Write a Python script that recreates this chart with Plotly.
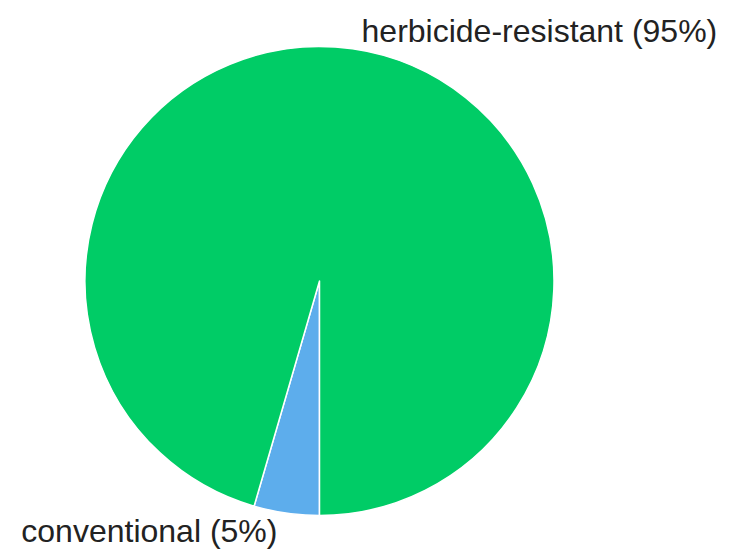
import plotly.graph_objects as go

labels = ["conventional (5%)", "herbicide-resistant (95%)"]
values = [4.5, 95.5]
colors = ["#5DADEC", "#00CC66"]

x0, x1 = 76.5, 546.5
y_top, y_bot = 38.5, 507.5

fig = go.Figure(go.Pie(
    labels=labels,
    values=values,
    sort=False,
    direction="clockwise",
    rotation=180,
    textinfo="label",
    textposition="outside",
    marker=dict(colors=colors, line=dict(color="white", width=1.5)),
    textfont=dict(family="Liberation Sans, Arial, sans-serif", size=32, color="#222"),
    domain=dict(x=[x0/741, x1/741], y=[(554-y_bot)/554, (554-y_top)/554]),
    showlegend=False,
))
fig.update_layout(
    width=741, height=554,
    margin=dict(l=0, r=0, t=0, b=0),
    paper_bgcolor="white",
)
fig.write_html("out.html")
